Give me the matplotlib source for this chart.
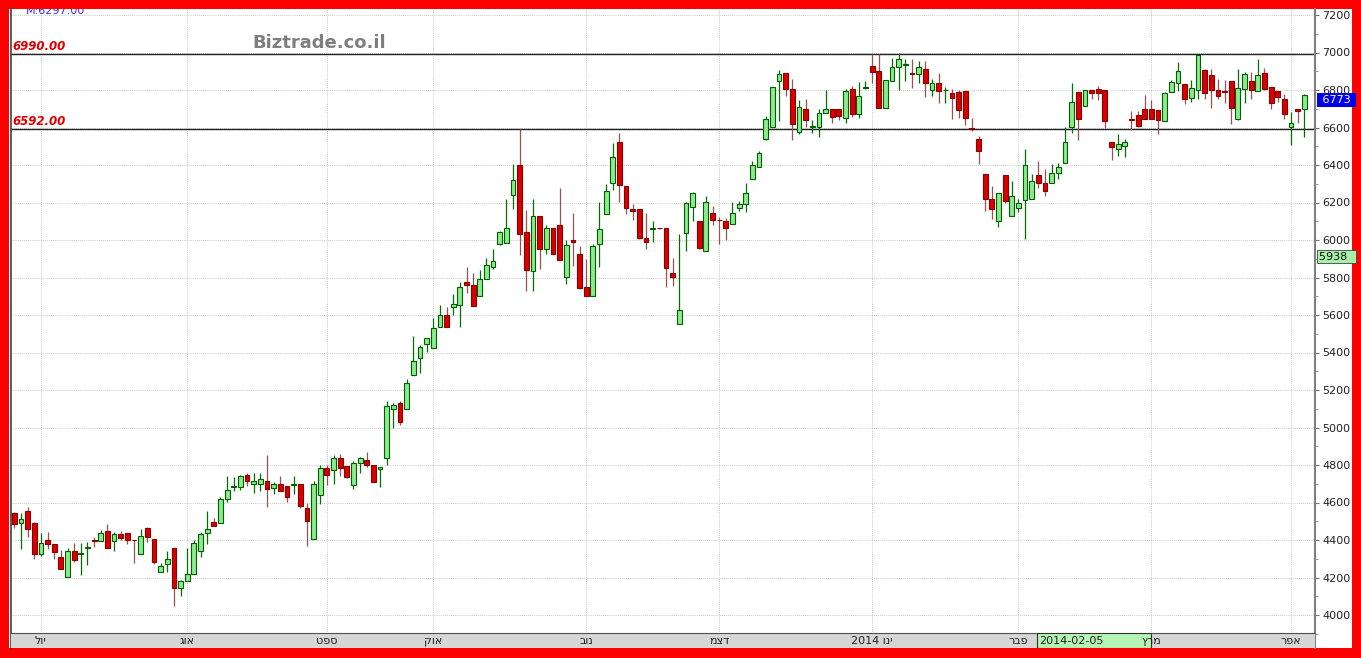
import matplotlib
matplotlib.use('Agg')
import matplotlib.pyplot as plt
import matplotlib.transforms as mtransforms
from matplotlib.patches import Rectangle
import numpy as np

# daily OHLC (one candle per trading day)
opens = [4543, 4490, 4556, 4490, 4326, 4401, 4378, 4312, 4205, 4342,
         4326, 4360, 4401, 4397, 4449, 4396, 4433, 4440, 4401, 4324,
         4463, 4408, 4232, 4271, 4356, 4143, 4179, 4220, 4339, 4436,
         4495, 4493, 4620, 4682, 4682, 4746, 4700, 4700, 4714, 4676,
         4698, 4689, 4693, 4698, 4570, 4404, 4641, 4783, 4774, 4836,
         4796, 4694, 4810, 4828, 4798, 4780, 4836, 5098, 5133, 5097,
         5280, 5369, 5445, 5422, 5536, 5598, 5644, 5652, 5778, 5758,
         5701, 5794, 5858, 5980, 5986, 6238, 6400, 6043, 5835, 6128,
         5950, 6066, 6080, 5803, 6000, 5924, 5751, 5701, 5980, 6140,
         6302, 6523, 6288, 6167, 6163, 6012, 6058, 6063, 6062, 5822,
         5550, 6039, 6178, 6101, 5941, 6146, 6108, 6101, 6084, 6172,
         6190, 6324, 6391, 6540, 6604, 6848, 6892, 6807, 6576, 6700,
         6604, 6604, 6679, 6700, 6697, 6652, 6804, 6670, 6810, 6928,
         6901, 6706, 6848, 6924, 6934, 6892, 6884, 6914, 6800, 6836,
         6799, 6782, 6789, 6795, 6598, 6540, 6350, 6220, 6101, 6345,
         6128, 6172, 6213, 6220, 6345, 6302, 6306, 6359, 6412, 6604,
         6789, 6715, 6800, 6804, 6800, 6524, 6484, 6501, 6647, 6665,
         6697, 6697, 6693, 6635, 6789, 6839, 6830, 6759, 6800, 6907,
         6878, 6800, 6795, 6848, 6644, 6804, 6848, 6795, 6892, 6818,
         6795, 6754, 6604, 6700, 6700]
highs = [4550, 4543, 4575, 4495, 4436, 4445, 4380, 4348, 4356, 4383,
         4383, 4392, 4415, 4454, 4486, 4445, 4449, 4440, 4401, 4458,
         4472, 4408, 4276, 4339, 4356, 4188, 4356, 4401, 4445, 4557,
         4516, 4632, 4739, 4735, 4746, 4756, 4756, 4756, 4854, 4712,
         4739, 4689, 4739, 4698, 4596, 4716, 4801, 4801, 4854, 4860,
         4796, 4819, 4845, 4867, 4798, 4792, 5139, 5130, 5140, 5257,
         5488, 5440, 5476, 5582, 5652, 5644, 5710, 5776, 5856, 5822,
         5840, 5906, 5950, 6048, 6220, 6404, 6594, 6158, 6217, 6128,
         6078, 6066, 6279, 6000, 6142, 5968, 5897, 5977, 6203, 6297,
         6516, 6572, 6288, 6190, 6163, 6146, 6101, 6066, 6062, 5906,
         6030, 6203, 6256, 6101, 6235, 6181, 6124, 6119, 6203, 6208,
         6302, 6421, 6475, 6661, 6818, 6907, 6892, 6860, 6745, 6754,
         6640, 6700, 6800, 6700, 6697, 6804, 6821, 6843, 6848, 6990,
         6990, 6853, 6972, 6996, 6964, 6967, 6955, 6955, 6860, 6889,
         6818, 6804, 6800, 6795, 6652, 6555, 6350, 6288, 6249, 6345,
         6315, 6220, 6487, 6350, 6421, 6380, 6404, 6412, 6604, 6839,
         6789, 6800, 6800, 6821, 6800, 6524, 6564, 6540, 6688, 6688,
         6772, 6747, 6693, 6789, 6853, 6949, 6830, 6853, 6985, 6914,
         6910, 6860, 6853, 6848, 6910, 6896, 6896, 6964, 6919, 6818,
         6795, 6777, 6683, 6700, 6777]
lows = [4463, 4351, 4415, 4301, 4316, 4351, 4298, 4244, 4205, 4285,
        4214, 4268, 4365, 4397, 4360, 4339, 4401, 4378, 4280, 4324,
        4387, 4273, 4228, 4232, 4049, 4099, 4179, 4220, 4312, 4380,
        4476, 4493, 4605, 4659, 4668, 4689, 4650, 4664, 4575, 4646,
        4664, 4605, 4646, 4570, 4369, 4404, 4593, 4694, 4700, 4739,
        4730, 4671, 4760, 4792, 4707, 4682, 4801, 5000, 5014, 5097,
        5280, 5289, 5404, 5422, 5536, 5538, 5598, 5538, 5719, 5648,
        5701, 5794, 5847, 5972, 5986, 6164, 5918, 5728, 5728, 5844,
        5924, 5924, 5893, 5767, 5861, 5740, 5701, 5701, 5858, 6140,
        6265, 6203, 6137, 6107, 6004, 5950, 5989, 6058, 5751, 5755,
        5550, 5941, 6101, 5950, 5941, 6078, 5977, 6000, 6084, 6155,
        6149, 6324, 6391, 6532, 6604, 6635, 6768, 6533, 6564, 6604,
        6569, 6551, 6679, 6626, 6640, 6622, 6658, 6652, 6804, 6839,
        6706, 6706, 6848, 6800, 6848, 6812, 6836, 6764, 6768, 6732,
        6732, 6644, 6652, 6612, 6580, 6404, 6155, 6110, 6071, 6199,
        6128, 6149, 6004, 6220, 6279, 6235, 6306, 6327, 6412, 6572,
        6533, 6715, 6750, 6747, 6599, 6427, 6448, 6444, 6587, 6604,
        6644, 6644, 6564, 6635, 6789, 6795, 6724, 6736, 6754, 6754,
        6706, 6754, 6732, 6617, 6640, 6729, 6754, 6795, 6800, 6700,
        6736, 6644, 6505, 6622, 6551]
closes = [4484, 4513, 4458, 4326, 4383, 4378, 4335, 4244, 4342, 4294,
          4333, 4365, 4394, 4440, 4360, 4433, 4413, 4401, 4398, 4422,
          4415, 4282, 4264, 4300, 4143, 4179, 4220, 4383, 4431, 4458,
          4476, 4618, 4668, 4689, 4739, 4717, 4714, 4728, 4671, 4698,
          4664, 4632, 4700, 4579, 4504, 4698, 4783, 4748, 4836, 4783,
          4735, 4813, 4840, 4798, 4712, 4787, 5116, 5121, 5027, 5239,
          5355, 5431, 5476, 5529, 5598, 5538, 5657, 5749, 5758, 5648,
          5790, 5865, 5888, 6043, 6062, 6320, 6030, 5838, 6128, 5954,
          6066, 5924, 5893, 5972, 5989, 5746, 5701, 5968, 6060, 6261,
          6444, 6292, 6172, 6153, 6012, 5991, 6062, 6062, 5852, 5804,
          5627, 6196, 6252, 5959, 6203, 6107, 6105, 6066, 6142, 6190,
          6249, 6400, 6462, 6644, 6818, 6884, 6804, 6617, 6711, 6638,
          6607, 6679, 6700, 6658, 6661, 6795, 6670, 6768, 6814, 6896,
          6706, 6853, 6924, 6964, 6937, 6884, 6924, 6836, 6839, 6795,
          6802, 6759, 6693, 6652, 6594, 6475, 6217, 6164, 6249, 6208,
          6235, 6199, 6398, 6315, 6302, 6261, 6359, 6391, 6523, 6736,
          6647, 6800, 6786, 6786, 6635, 6498, 6514, 6524, 6640, 6608,
          6644, 6644, 6640, 6786, 6843, 6901, 6754, 6812, 6985, 6786,
          6800, 6768, 6789, 6706, 6812, 6884, 6800, 6878, 6807, 6729,
          6764, 6670, 6622, 6688, 6773]

# month labels and the trading-day index where each month starts
months = ['יול', 'אוג', 'ספט', 'אוק', 'נוב', 'דצמ', 'ינו 2014', 'פבר', 'מרץ', 'אפר']
month_start = [4, 26, 47, 63, 86, 106, 129, 151, 171, 192]

# horizontal levels drawn on the chart
resistance = 6990.00
support = 6592.00
m_value = 6297.00
last_price = 6773
side_value = 5938
cursor_date = '2014-02-05'

yticks = list(range(4000, 7201, 200))


def rtl(s):
    # matplotlib has no bidi support: flip word order and hebrew words
    words = s.split(' ')[::-1]
    out = []
    for w in words:
        if any('\u0590' <= ch <= '\u05ff' for ch in w):
            out.append(w[::-1])
        else:
            out.append(w)
    return ' '.join(out)


W, H = 1361, 658
fig = plt.figure(figsize=(W / 100, H / 100), dpi=100, facecolor='#FF0000')

# white inner panel (its own axes, behind everything)
bg = fig.add_axes([9 / W, 10 / H, 1343 / W, 639 / H], zorder=-5)
bg.set_facecolor('white')
bg.set_xticks([])
bg.set_yticks([])
for s in bg.spines.values():
    s.set_visible(False)

ax = fig.add_axes([11 / W, 10 / H, 1304 / W, 639 / H], zorder=1)
ax.set_facecolor('white')

o = np.array(opens, dtype=float)
h = np.array(highs, dtype=float)
l = np.array(lows, dtype=float)
c = np.array(closes, dtype=float)
idx = np.arange(len(o))
up = c >= o

# wicks
ax.vlines(idx[up], l[up], h[up], color='#007000', linewidth=0.9, zorder=3)
ax.vlines(idx[~up], l[~up], h[~up], color='#9A5050', linewidth=0.9, zorder=3)

# bodies
body_lo = np.minimum(o, c)
body_h = np.maximum(np.abs(c - o), 3)
ax.bar(idx[up], body_h[up], bottom=body_lo[up], width=0.72,
       color='#8CEB8C', edgecolor='#006000', linewidth=0.8, zorder=4)
ax.bar(idx[~up], body_h[~up], bottom=body_lo[~up], width=0.72,
       color='#D80000', edgecolor='#8A0000', linewidth=0.8, zorder=4)

ax.set_xlim(-0.5, 195.6)
ax.set_ylim(3824, 7232)

# grid
for v in yticks:
    ax.axhline(v, color='#B8B8B8', linewidth=0.6, linestyle=(0, (1, 1.5)), zorder=1)
for i in month_start:
    ax.axvline(i, color='#B8B8B8', linewidth=0.6, linestyle=(0, (1, 1.5)), zorder=1)

# support / resistance lines
ax.axhline(resistance, color='#202020', linewidth=1.0, zorder=2)
ax.axhline(support, color='#202020', linewidth=1.0, zorder=2)

# right axis
ax.yaxis.tick_right()
ax.set_yticks(yticks)
ax.set_yticklabels([str(v) for v in yticks], fontsize=8, color='#202020')
ax.set_yticks(list(range(3900, 7201, 100)), minor=True)
ax.tick_params(axis='y', which='major', length=3, width=0.8, color='#707070', pad=2)
ax.tick_params(axis='y', which='minor', length=2, width=0.6, color='#909090')
ax.set_xticks([])
for s in ['top', 'bottom']:
    ax.spines[s].set_visible(False)
ax.spines['left'].set_color('#404040')
ax.spines['left'].set_linewidth(1.2)
ax.spines['right'].set_color('#808080')
ax.spines['right'].set_linewidth(1.5)

# texts on chart
ax.text(1.76, 7203, 'M:%.2f' % m_value, color='#3030F0', fontsize=8,
        va='baseline', ha='left', clip_on=True, zorder=6)
ax.text(-0.3, resistance + 22, '%.2f' % resistance, color='#E00000', fontsize=8.5,
        fontweight='bold', fontstyle='italic', va='baseline', ha='left', zorder=6)
ax.text(-0.3, support + 22, '%.2f' % support, color='#E00000', fontsize=8.5,
        fontweight='bold', fontstyle='italic', va='baseline', ha='left', zorder=6)
ax.text(45.8, 7051, 'Biztrade.co.il', color='#7F7F7F', fontsize=13,
        fontweight='bold', va='center', ha='center', zorder=6)

# price boxes on the right axis
trans = mtransforms.blended_transform_factory(ax.transAxes, ax.transData)
ax.text(1.003, last_price, ' %d ' % last_price, transform=trans, color='white',
        fontsize=8, va='top', ha='left', clip_on=False, zorder=7,
        bbox=dict(boxstyle='square,pad=0.15', fc='#0000E8', ec='none'))
ax.text(1.003, side_value, '%d  ' % side_value, transform=trans, color='#101010',
        fontsize=8, va='top', ha='left', clip_on=False, zorder=7,
        bbox=dict(boxstyle='square,pad=0.15', fc='#A8F0A8', ec='#404040', lw=0.6))

# bottom date strip
sx = fig.add_axes([11 / W, 10 / H, 1304 / W, 15 / H], sharex=ax, zorder=2)
sx.set_facecolor('#D6D6D6')
sx.set_ylim(0, 1)
sx.set_yticks([])
sx.tick_params(axis='x', length=0, labelbottom=False)
for s in ['left', 'right', 'bottom']:
    sx.spines[s].set_visible(False)
sx.spines['top'].set_color('#505050')
sx.spines['top'].set_linewidth(0.8)
for i, name in zip(month_start, months):
    sx.text(i, 0.45, rtl(name), fontsize=8, color='#202020',
            ha='center', va='center', zorder=5)
sx.add_patch(Rectangle((153.8, 0), 17.1, 1, facecolor='#B4F4B4',
                       edgecolor='#303030', linewidth=0.8, zorder=3))
sx.text(154.1, 0.45, cursor_date, fontsize=8, color='#202020',
        ha='left', va='center', zorder=5)

fig.savefig('out.png', dpi=100, facecolor=fig.get_facecolor())
